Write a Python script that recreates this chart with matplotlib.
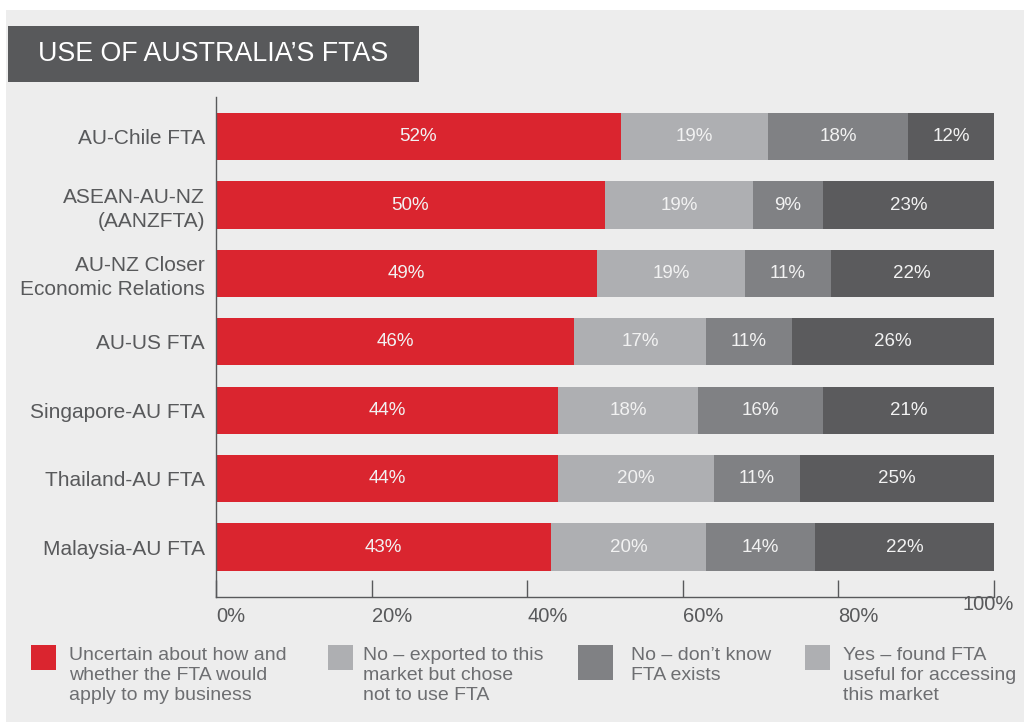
import matplotlib
matplotlib.use("Agg")
import matplotlib.pyplot as plt
from matplotlib.patches import Rectangle
import numpy as np

plt.rcParams['font.family'] = ['Liberation Sans', 'DejaVu Sans']

categories = ["AU-Chile FTA", "ASEAN-AU-NZ\n(AANZFTA)", "AU-NZ Closer\nEconomic Relations",
              "AU-US FTA", "Singapore-AU FTA", "Thailand-AU FTA", "Malaysia-AU FTA"]
uncertain = [52, 50, 49, 46, 44, 44, 43]
no_chose = [19, 19, 19, 17, 18, 20, 20]
no_dont_know = [18, 9, 11, 11, 16, 11, 14]
yes_useful = [12, 23, 22, 26, 21, 25, 22]
series_names = ["Uncertain about how and\nwhether the FTA would\napply to my business",
                "No \u2013 exported to this\nmarket but chose\nnot to use FTA",
                "No \u2013 don\u2019t know\nFTA exists",
                "Yes \u2013 found FTA\nuseful for accessing\nthis market"]
xticks = [0, 20, 40, 60, 80, 100]
xticklabels = ["0%", "20%", "40%", "60%", "80%", "100%"]

colors = ["#DA252F", "#AEAFB2", "#808184", "#5B5B5D"]
legend_colors = ["#DA252F", "#AEAFB2", "#808184", "#AEAFB2"]
text_gray = "#58595B"
bg = "#EDEDED"

W, H = 1024, 722
fig = plt.figure(figsize=(W / 100, H / 100), dpi=100)
fig.patch.set_facecolor("white")

def fx(x): return x / W
def fy(y): return 1 - y / H

# background panel
fig.patches.append(Rectangle((fx(6), 0), 1 - fx(6), fy(10), transform=fig.transFigure,
                             facecolor=bg, edgecolor="none", zorder=-10))
# title box
fig.patches.append(Rectangle((fx(8), fy(82)), fx(419) - fx(8), fy(26) - fy(82),
                             transform=fig.transFigure, facecolor="#58595B",
                             edgecolor="none", zorder=-5))
fig.text(fx(38), fy(54), "USE OF AUSTRALIA\u2019S FTAS", color="white", fontsize=19.3,
         va="center", ha="left")

ax = fig.add_axes([fx(216), fy(597), fx(994) - fx(216), fy(97) - fy(597)])
ax.set_facecolor("none")
ax.set_zorder(5)

y = np.arange(len(categories))
series = [uncertain, no_chose, no_dont_know, yes_useful]
left = np.zeros(len(categories))
bar_h = 0.69
for i, (vals, c) in enumerate(zip(series, colors)):
    vals = np.array(vals, dtype=float)
    widths = vals if i < len(series) - 1 else 100 - left
    ax.barh(y, widths, left=left, height=bar_h, color=c, edgecolor="none")
    for yi, l, w, v in zip(y, left, widths, vals):
        ax.text(l + w / 2, yi, f"{int(v)}%", ha="center", va="center",
                color="#F2F2F2", fontsize=13.5)
    left = left + widths

ax.set_xlim(0, 100)
ax.set_ylim(6.73, -0.58)
ax.set_yticks(y)
ax.set_yticklabels(categories, fontsize=15, color=text_gray, linespacing=1.3)
ax.tick_params(axis="y", length=0, pad=8)
ax.set_xticks(xticks)
ax.set_xticklabels([])
ax.tick_params(axis="x", direction="in", length=12, width=1, color="#58595B")
for s in ["top", "right"]:
    ax.spines[s].set_visible(False)
for s in ["left", "bottom"]:
    ax.spines[s].set_color("#58595B")
    ax.spines[s].set_linewidth(1)

# x tick labels (left aligned at tick, 100% raised)
for xv, lab in zip(xticks, xticklabels):
    px = 216 + xv / 100 * 778
    py = 604 if xv == 100 else 617
    ha = "center" if xv == 100 else "left"
    if xv == 100:
        px = 988
    fig.text(fx(px), fy(py), lab, fontsize=14.5, color=text_gray, ha=ha, va="center")

# legend
sw = [(31, 645, 25), (328, 645, 25), (578, 645, 35), (805, 645, 25)]
tx = [69, 363, 631, 843]
for (sx, sy, s), c, t, name in zip(sw, legend_colors, tx, series_names):
    fig.patches.append(Rectangle((fx(sx), fy(sy + s)), fx(s), s / H, transform=fig.transFigure,
                                 facecolor=c, edgecolor="none", zorder=2))
    fig.text(fx(t), fy(647), name, fontsize=14, color="#6D6E71", ha="left", va="top",
             linespacing=1.22)

fig.savefig("out.png", dpi=100, facecolor=fig.get_facecolor())
